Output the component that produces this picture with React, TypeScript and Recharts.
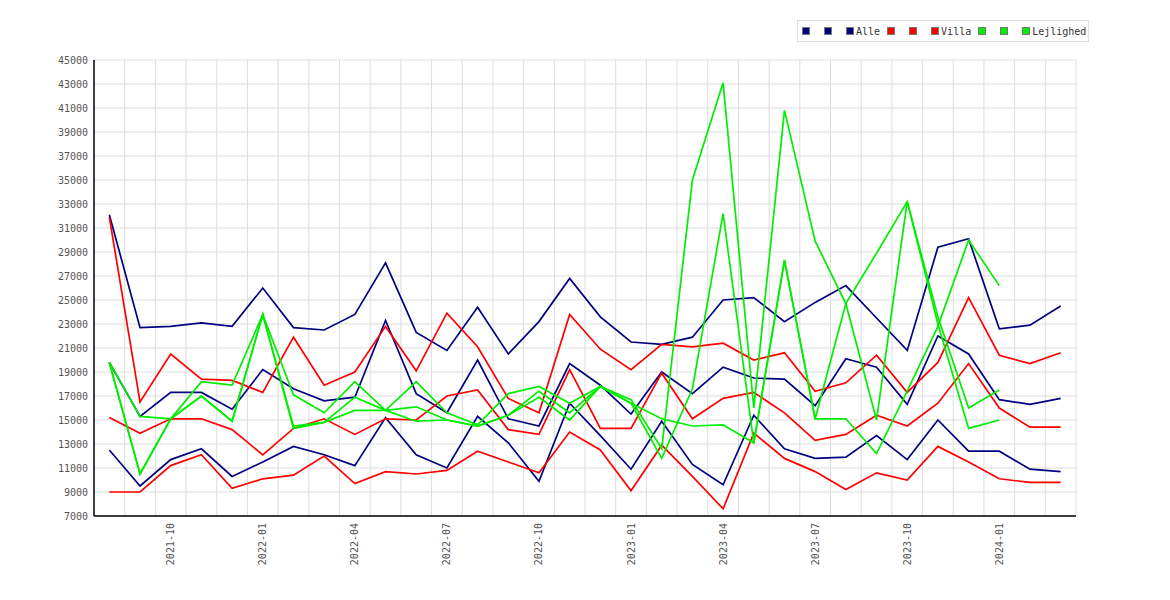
import { CartesianGrid, Line, LineChart, XAxis, YAxis } from "recharts";

const months = [
  "2021-08", "2021-09", "2021-10", "2021-11", "2021-12",
  "2022-01", "2022-02", "2022-03", "2022-04", "2022-05", "2022-06",
  "2022-07", "2022-08", "2022-09", "2022-10", "2022-11", "2022-12",
  "2023-01", "2023-02", "2023-03", "2023-04", "2023-05", "2023-06",
  "2023-07", "2023-08", "2023-09", "2023-10", "2023-11", "2023-12",
  "2024-01", "2024-02", "2024-03",
];

const tickLabels = [
  "2021-10", "2022-01", "2022-04", "2022-07", "2022-10",
  "2023-01", "2023-04", "2023-07", "2023-10", "2024-01",
];

const yTicks = [
  7000, 9000, 11000, 13000, 15000, 17000, 19000, 21000, 23000, 25000,
  27000, 29000, 31000, 33000, 35000, 37000, 39000, 41000, 43000, 45000,
];

// Alle
const alleHigh = [32100, 22700, 22800, 23100, 22800, 26000, 22700, 22500, 23800, 28100, 22300, 20800, 24400, 20500, 23200, 26800, 23600, 21500, 21300, 21900, 25000, 25200, 23200, 24800, 26200, 23500, 20800, 29400, 30100, 22600, 22900, 24500];
const alleMid = [19800, 15300, 17300, 17300, 15900, 19200, 17600, 16600, 16900, 23300, 17200, 15600, 20000, 15100, 14500, 19700, 17900, 15500, 19000, 17200, 19400, 18500, 18400, 16200, 20100, 19400, 16300, 22000, 20500, 16700, 16300, 16800];
const alleLow = [12500, 9500, 11700, 12600, 10300, 11500, 12800, 12100, 11200, 15200, 12100, 11000, 15300, 13100, 9900, 16400, 13700, 10900, 14900, 11300, 9600, 15400, 12600, 11800, 11900, 13700, 11700, 15000, 12400, 12400, 10900, 10700];

// Villa
const villaHigh = [31900, 16500, 20500, 18400, 18300, 17300, 21900, 17900, 19000, 22800, 19100, 23900, 21100, 16800, 15600, 23800, 20900, 19200, 21300, 21100, 21400, 20000, 20600, 17400, 18100, 20400, 17300, 19800, 25200, 20400, 19700, 20600];
const villaMid = [15200, 13900, 15100, 15100, 14200, 12100, 14300, 15100, 13800, 15100, 15000, 17000, 17500, 14200, 13800, 19200, 14300, 14300, 18900, 15100, 16800, 17300, 15600, 13300, 13800, 15400, 14500, 16400, 19700, 16000, 14400, 14400];
const villaLow = [9000, 9000, 11200, 12100, 9300, 10100, 10400, 12000, 9700, 10700, 10500, 10800, 12400, 11500, 10600, 14000, 12500, 9100, 12900, 10300, 7600, 13900, 11800, 10700, 9200, 10600, 10000, 12800, 11500, 10100, 9800, 9800];

// Lejlighed
const lejHigh = [19800, 15300, 15100, 18200, 17900, 23800, 17100, 15600, 18200, 15800, 18200, 15600, 14600, 17200, 17800, 16400, 17800, 16700, 12600, 35000, 43100, 16000, 40800, 29900, 24700, 15000, 33200, 23600, 16000, 17500, null, null];
const lejMid = [19800, 10500, 15100, 17000, 14900, 23800, 14500, 14800, 16900, 15800, 16100, 15000, 14500, 15400, 17400, 15600, 17800, 16400, 11800, 17600, 32200, 13100, 28300, 15100, 15100, 12200, 17400, 22800, 30000, 26200, null, null];
const lejLow = [19800, 10500, 15100, 17000, 14900, 23800, 14300, 14800, 15800, 15800, 14900, 15000, 14500, 15400, 16900, 15000, 17800, 16400, 15100, 14500, 14600, 13100, 28300, 15100, 24700, 28900, 33200, 23000, 14300, 15000, null, null];

const NAVY = "#000080";
const RED = "#ff0000";
const GREEN = "#00ee00";
const FONT = "'DejaVu Sans Mono', monospace";

const series = [
  { key: "alleHigh", color: NAVY, label: "" },
  { key: "alleMid", color: NAVY, label: "" },
  { key: "alleLow", color: NAVY, label: "Alle" },
  { key: "villaHigh", color: RED, label: "" },
  { key: "villaMid", color: RED, label: "" },
  { key: "villaLow", color: RED, label: "Villa" },
  { key: "lejHigh", color: GREEN, label: "" },
  { key: "lejMid", color: GREEN, label: "" },
  { key: "lejLow", color: GREEN, label: "Lejlighed" },
];

const data = months.map((m, i) => ({
  i,
  month: m,
  alleHigh: alleHigh[i],
  alleMid: alleMid[i],
  alleLow: alleLow[i],
  villaHigh: villaHigh[i],
  villaMid: villaMid[i],
  villaLow: villaLow[i],
  lejHigh: lejHigh[i],
  lejMid: lejMid[i],
  lejLow: lejLow[i],
}));

// vertical grid sits between the months
const gridTicks = months.map((_, i) => i + 0.5);
const labelTicks = tickLabels.map((t) => months.indexOf(t));

const gridX = ({ offset }: any) =>
  gridTicks.map((v) => offset.left + ((v + 0.5) / months.length) * offset.width);

const MonthTick = (props: any) => {
  const { x, y, payload } = props;
  const label = months[payload.value] ?? "";
  return (
    <text
      x={x}
      y={y + 6}
      transform={`rotate(-90, ${x}, ${y + 6})`}
      textAnchor="end"
      dy="0.35em"
      fill="#555"
      fontSize={10}
      fontFamily={FONT}
    >
      {label}
    </text>
  );
};

export default function App() {
  return (
    <div style={{ position: "relative", width: 1170, height: 600, background: "#fff" }}>
      <style>{`body{margin:0}`}</style>
      <LineChart
        width={1170}
        height={600}
        data={data}
        margin={{ top: 60, right: 94, left: 0, bottom: 0 }}
      >
        <CartesianGrid stroke="#dddddd" strokeWidth={1} verticalCoordinatesGenerator={gridX} />
        <XAxis
          dataKey="i"
          type="number"
          domain={[-0.5, 31.5]}
          ticks={gridTicks}
          interval={0}
          tick={false}
          tickLine={false}
          axisLine={{ stroke: "#000", strokeWidth: 1.5 }}
          height={1}
          allowDataOverflow
        />
        <XAxis
          xAxisId="lab"
          dataKey="i"
          type="number"
          domain={[-0.5, 31.5]}
          ticks={labelTicks}
          interval={0}
          tick={<MonthTick />}
          tickLine={false}
          tickSize={0}
          tickMargin={0}
          axisLine={false}
          height={83}
          allowDataOverflow
        />
        <YAxis
          type="number"
          domain={[7000, 45000]}
          ticks={yTicks}
          interval={0}
          width={94}
          tickLine={false}
          tickSize={0}
          tickMargin={6}
          axisLine={{ stroke: "#000", strokeWidth: 1.5 }}
          tick={{ fill: "#555", fontSize: 10, fontFamily: FONT }}
          allowDataOverflow
        />
        {series.map((s) => (
          <Line
            key={s.key}
            dataKey={s.key}
            type="linear"
            stroke={s.color}
            strokeWidth={1.7}
            dot={false}
            activeDot={false}
            isAnimationActive={false}
          />
        ))}
      </LineChart>
      <div
        style={{
          position: "absolute",
          left: 797,
          top: 20,
          height: 20,
          border: "1px solid #dddddd",
          background: "#fff",
          display: "flex",
          alignItems: "center",
          padding: "0 2px 0 4px",
          fontFamily: FONT,
          fontSize: 10,
          color: "#333",
          whiteSpace: "nowrap",
        }}
      >
        {series.map((s, idx) => (
          <div key={s.key} style={{ display: "flex", alignItems: "center" }}>
            <span
              style={{
                display: "inline-block",
                width: 6,
                height: 6,
                border: "1px solid #777",
                backgroundColor: s.color,
              }}
            />
            {s.label ? (
              <span style={{ marginLeft: 2, marginRight: idx === series.length - 1 ? 0 : 7 }}>
                {s.label}
              </span>
            ) : (
              <span style={{ width: 14 }} />
            )}
          </div>
        ))}
      </div>
    </div>
  );
}
